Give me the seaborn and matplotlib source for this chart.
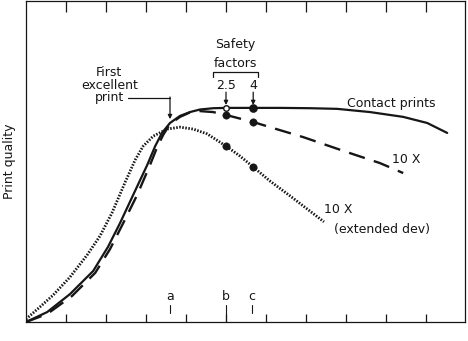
import matplotlib
matplotlib.use("Agg")
import matplotlib.pyplot as plt
import seaborn as sns
import pandas as pd

# Log exposure (tick units) and print quality for each printing condition
contact_x = [0, 0.53, 1.1, 1.68, 2.05, 2.35, 2.68, 3.03, 3.23, 3.4, 3.6, 3.85, 4.1,
             4.35, 4.68, 5.0, 5.68, 6.35, 7.1, 7.78, 8.6, 9.43, 10.03, 10.53]
contact_y = [0, 3.1, 8.7, 15.9, 23.4, 30.8, 39.6, 48.9, 54.8, 58.9, 62.0, 64.2, 65.4,
             66.2, 66.6, 66.7, 66.7, 66.7, 66.6, 66.4, 65.4, 63.9, 62.0, 58.9]

enlarged_x = [0, 0.53, 1.15, 1.73, 2.1, 2.43, 2.78, 3.1, 3.28, 3.43, 3.6, 3.85, 4.1,
              4.35, 4.68, 5.0, 5.68, 6.1, 6.93, 8.03, 8.85, 9.43]
enlarged_y = [0, 2.5, 8.1, 15.3, 22.7, 30.8, 39.6, 48.9, 54.5, 58.3, 61.7, 63.9, 65.3,
              65.7, 65.4, 64.5, 62.3, 60.7, 57.6, 52.9, 49.5, 46.4]

extended_x = [0, 0.35, 0.68, 1.1, 1.53, 1.85, 2.15, 2.48, 2.73, 2.93, 3.18, 3.53, 3.85,
              4.18, 4.53, 5.0, 5.35, 5.68, 6.1, 6.6, 7.45]
extended_y = [0.9, 4.7, 8.4, 14.0, 20.9, 26.8, 34.0, 43.6, 50.5, 54.8, 57.9, 60.1, 60.7,
              60.1, 58.6, 54.8, 51.7, 48.3, 43.9, 39.3, 31.2]

# Exposures at safety factors 2.5 and 4 (relative to the first excellent print)
safety_labels = ["2.5", "4"]
safety_x = [5.0, 5.68]
first_excellent_x = 3.6
point_labels = ["a", "b", "c"]
point_x = [3.6, 5.0, 5.65]

ink = "#161616"

sns.set_theme(style="white")
plt.rcParams["font.family"] = ["DejaVu Sans"]

fig = plt.figure(figsize=(4.68, 3.41), dpi=100)
ax = fig.add_axes([26 / 468, 19 / 341, 439 / 468, 321 / 341])

contact = pd.DataFrame({"x": contact_x, "y": contact_y})
enlarged = pd.DataFrame({"x": enlarged_x, "y": enlarged_y})
extended = pd.DataFrame({"x": extended_x, "y": extended_y})

sns.lineplot(data=contact, x="x", y="y", ax=ax, color=ink, lw=1.6, sort=False)
sns.lineplot(data=enlarged, x="x", y="y", ax=ax, color=ink, lw=1.7,
             linestyle=(0, (7, 4)), sort=False)
sns.lineplot(data=extended, x="x", y="y", ax=ax, color=ink, lw=2.0,
             linestyle=(0, (0.55, 0.55)), sort=False)

# Safety-factor points on each curve
def at(xs, ys, x):
    return ys[xs.index(x)]

for i, sx in enumerate(safety_x):
    for xs, ys in ((enlarged_x, enlarged_y), (extended_x, extended_y)):
        sns.scatterplot(x=[sx], y=[at(xs, ys, sx)], ax=ax, color=ink, s=28,
                        edgecolor=ink, zorder=5)
ax.plot([safety_x[0]], [at(contact_x, contact_y, safety_x[0])], "o", ms=4,
        mfc="white", mec=ink, mew=1.0, zorder=6)
ax.plot([safety_x[1]], [at(contact_x, contact_y, safety_x[1])], "o", ms=5.2,
        color=ink, zorder=6)

ax.set_xlim(0, 10.975)
ax.set_ylim(0, 100)
ax.set_xlabel("")
ax.set_ylabel("Print quality", fontsize=9, color=ink)
ax.yaxis.set_label_coords(-0.022, 0.5)
ax.set_yticks([])

ax.set_xticks(range(1, 11))
ax.set_xticklabels([])
ax.tick_params(axis="x", direction="in", length=6, width=0.9, color=ink, bottom=True)
top = ax.secondary_xaxis("top")
top.set_xticks(range(1, 11))
top.set_xticklabels([])
top.tick_params(direction="in", length=8, width=0.9, color=ink)
top.spines["top"].set_visible(False)

for s in ax.spines.values():
    s.set_visible(True)
    s.set_color(ink)
    s.set_linewidth(0.9)

fs = 9
txt = dict(color=ink, fontsize=fs)

# Annotation: first excellent print
ax.text(2.08, 73.8, "First\nexcellent\nprint", ha="center", va="center",
        linespacing=0.95, **txt)
ax.plot([2.55, first_excellent_x], [69.8, 69.8], color=ink, lw=0.9)
ax.annotate("", xy=(first_excellent_x, 63.2), xytext=(first_excellent_x, 70.1),
            arrowprops=dict(arrowstyle="-|>", color=ink, lw=0.9,
                            mutation_scale=6, shrinkA=0, shrinkB=0))

# Safety factor header and brace
ax.text(5.23, 86.5, "Safety", ha="center", va="center", **txt)
ax.text(5.23, 80.6, "factors", ha="center", va="center", **txt)
ax.plot([4.68, 4.68, 5.8, 5.8], [76.2, 77.8, 77.8, 76.2], color=ink, lw=0.9)
for lab, sx in zip(safety_labels, safety_x):
    ax.text(sx, 73.6, lab, ha="center", va="center", **txt)
    ax.annotate("", xy=(sx, 67.6), xytext=(sx, 71.6),
                arrowprops=dict(arrowstyle="-|>", color=ink, lw=0.9,
                                mutation_scale=6, shrinkA=0, shrinkB=0))

# Curve labels
ax.text(8.03, 68.2, "Contact prints", ha="left", va="center", **txt)
ax.text(9.15, 50.5, "10 X", ha="left", va="center", **txt)
ax.text(7.45, 34.9, "10 X", ha="left", va="center", **txt)
ax.text(7.7, 28.7, "(extended dev)", ha="left", va="center", **txt)

# Exposure markers along the axis
for lab, px in zip(point_labels, point_x):
    ax.text(px, 7.8, lab, ha="center", va="center", **txt)
    y0 = 0 if lab == "b" else 2.8
    ax.plot([px, px], [y0, 5.3], color=ink, lw=0.8)

fig.savefig("out.png", dpi=100, facecolor="white")
